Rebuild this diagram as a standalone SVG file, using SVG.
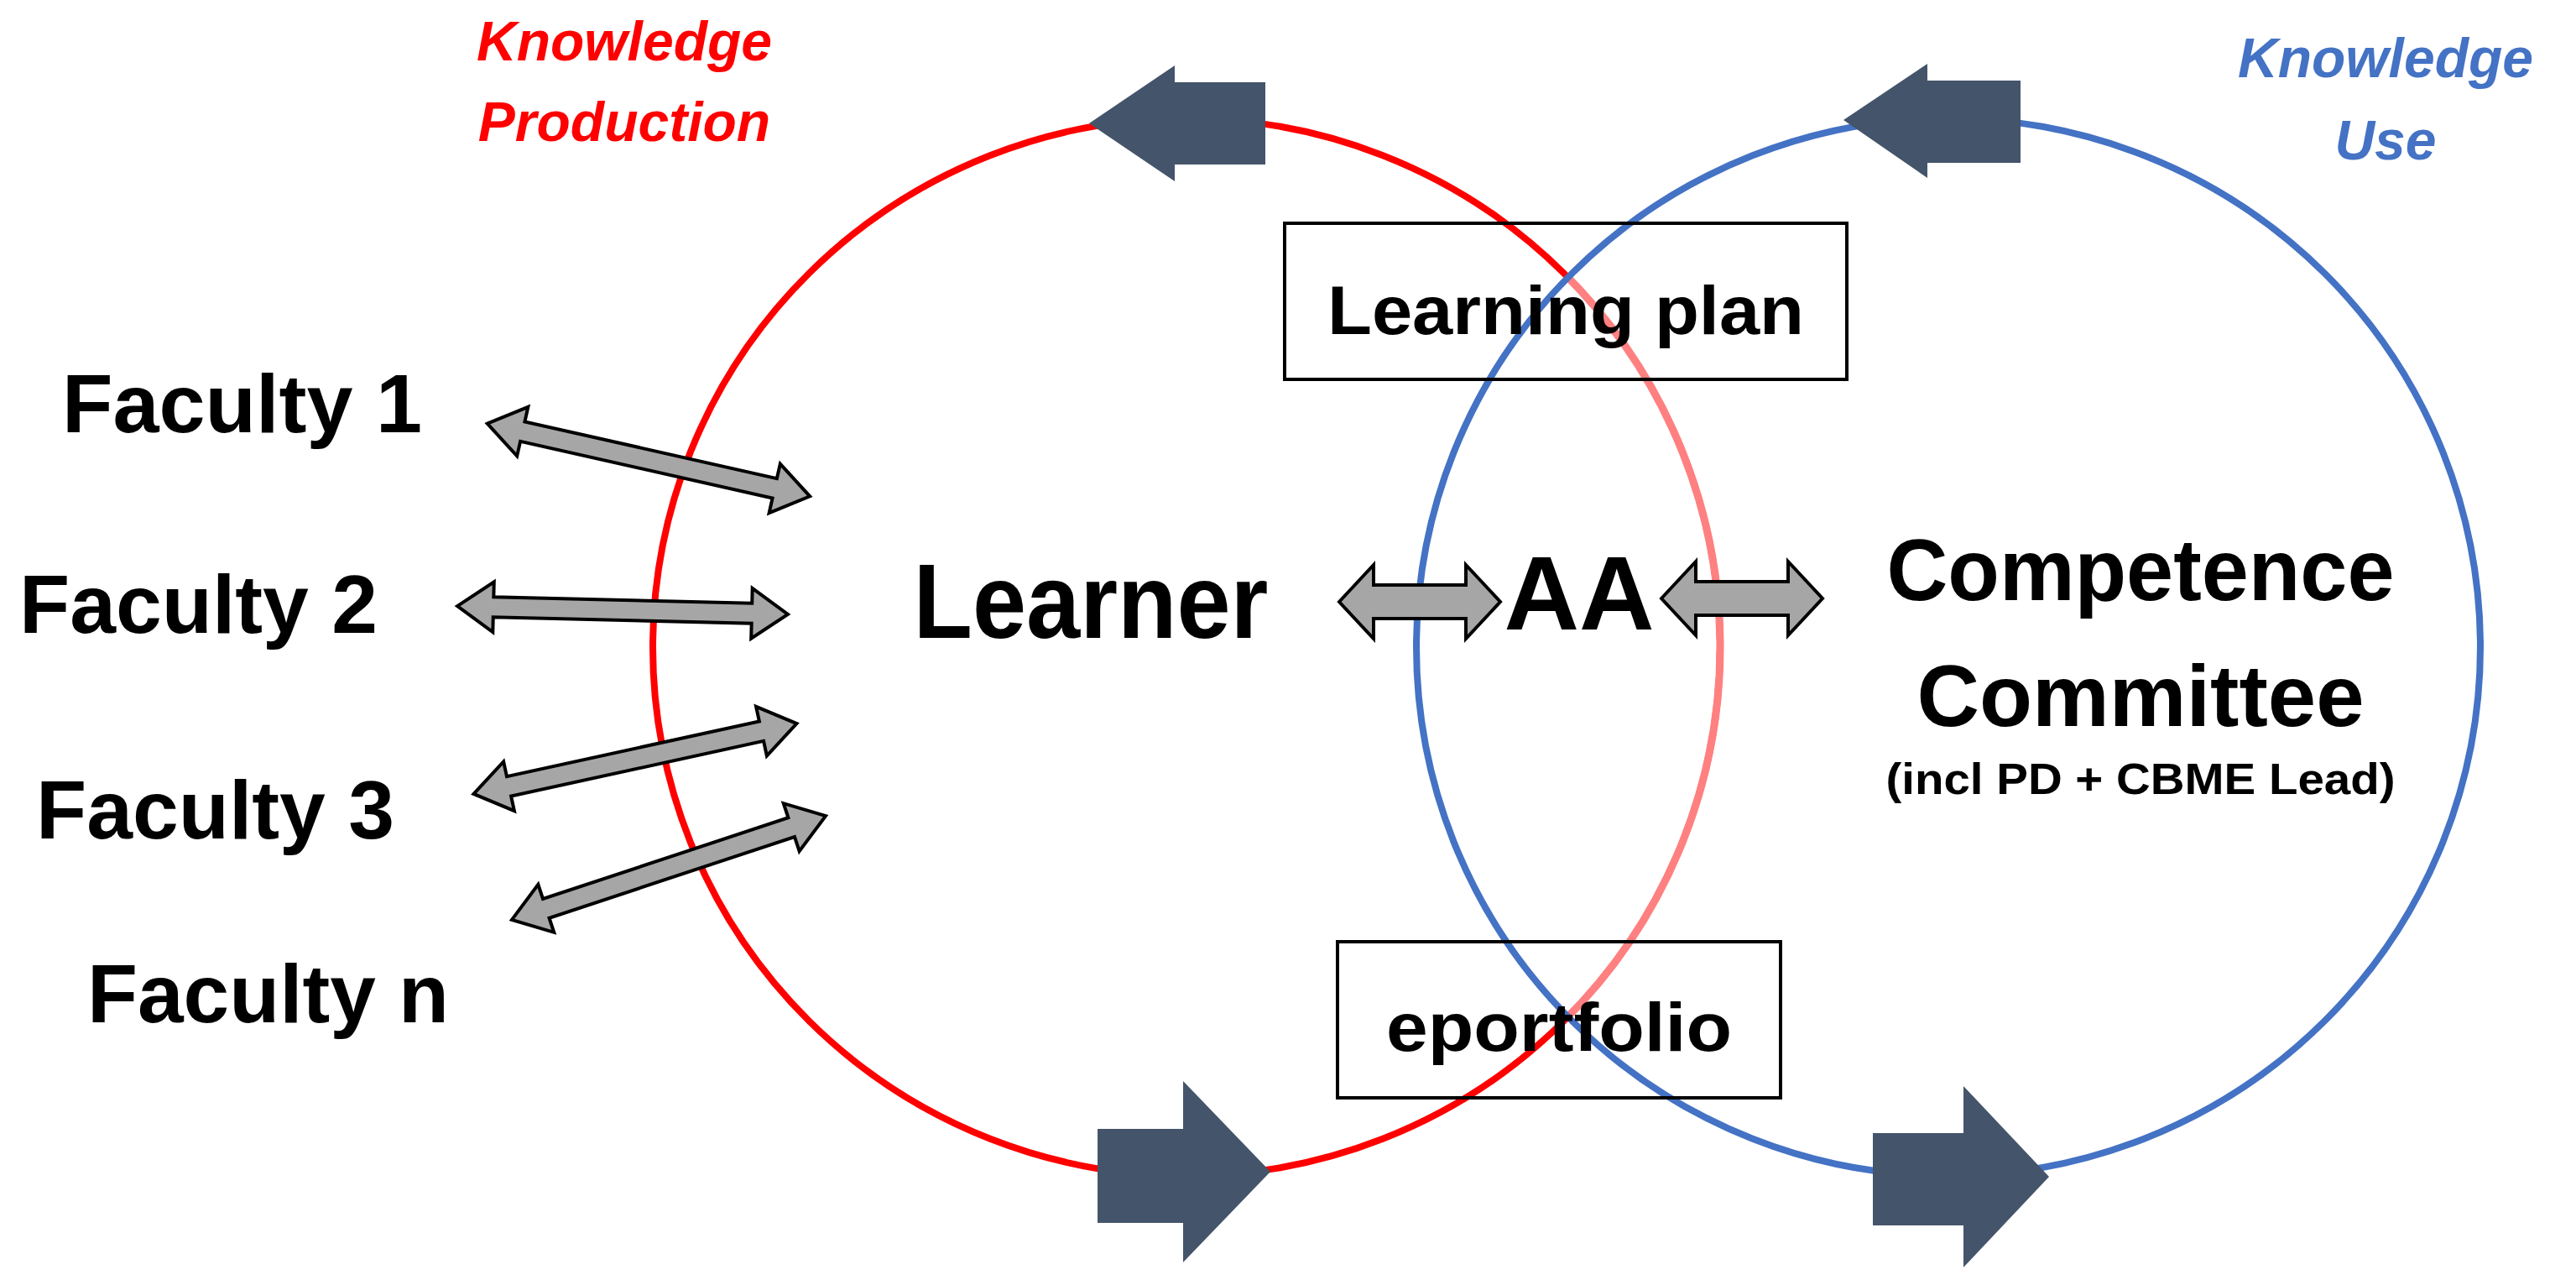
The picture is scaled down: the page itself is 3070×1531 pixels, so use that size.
<svg xmlns="http://www.w3.org/2000/svg" xmlns:xlink="http://www.w3.org/1999/xlink" width="3070" height="1531" viewBox="0 0 3070 1531">
<style>
.t{font-family:"Liberation Sans",Arial,sans-serif;font-weight:bold;fill:#000}
.ga{fill:#A6A6A6;stroke:#000;stroke-width:4;stroke-linejoin:miter}
.da{fill:#44546A}
.box{fill:#fff;stroke:#000;stroke-width:4}
</style>
<defs>
<clipPath id="inBlue"><ellipse cx="2322" cy="771" rx="634" ry="630"/></clipPath>
<polygon id="fa" class="ga" points="-197,0 -154,-30 -154,-12 154,-12 154,-30 197,0 154,30 154,12 -154,12 -154,30"/>
<polygon id="aa" class="ga" points="-96,0 -55,-44 -55,-20 55,-20 55,-44 96,0 55,44 55,20 -55,20 -55,44"/>
</defs>
<rect width="3070" height="1531" fill="#fff"/>
<g id="circles">
<ellipse cx="1414" cy="771" rx="636" ry="630" fill="none" stroke="#FF0000" stroke-width="8"/>
<ellipse cx="1414" cy="771" rx="636" ry="630" fill="none" stroke="#FF8080" stroke-width="9" clip-path="url(#inBlue)"/>
<ellipse cx="2322" cy="771" rx="634" ry="630" fill="none" stroke="#4472C4" stroke-width="8"/>
</g>
<g id="cycle-arrows">
<polygon class="da" points="1298,147 1400,78 1400,98 1508,98 1508,196 1400,196 1400,216"/>
<polygon class="da" points="2197,143 2297,76 2297,96 2408,96 2408,194 2297,194 2297,212"/>
<polygon class="da" points="1514,1396 1410,1288 1410,1345 1308,1345 1308,1457 1410,1457 1410,1504"/>
<polygon class="da" points="2442,1402 2340,1294 2340,1350 2232,1350 2232,1460 2340,1460 2340,1510"/>
</g>
<g id="labels-top">
<text class="t" x="744" y="72" font-size="66" font-style="italic" style="fill:#FF0000" text-anchor="middle">Knowledge</text>
<text class="t" x="744" y="168" font-size="66" font-style="italic" style="fill:#FF0000" text-anchor="middle">Production</text>
<text class="t" x="2843" y="92" font-size="66" font-style="italic" style="fill:#4472C4" text-anchor="middle">Knowledge</text>
<text class="t" x="2843" y="190" font-size="66" font-style="italic" style="fill:#4472C4" text-anchor="middle">Use</text>
</g>
<g id="learning-plan">
<rect class="box" x="1531" y="266" width="670" height="186" fill-opacity="0"/>
<text class="t" x="1866" y="398" font-size="82" text-anchor="middle" textLength="568" lengthAdjust="spacingAndGlyphs">Learning plan</text>
</g>
<g id="eportfolio">
<rect class="box" x="1594" y="1122" width="528" height="186" fill-opacity="0"/>
<text class="t" x="1858" y="1252" font-size="82" text-anchor="middle" textLength="412" lengthAdjust="spacingAndGlyphs">eportfolio</text>
</g>
<g id="faculty1"><text class="t" x="74" y="515" font-size="98" textLength="429" lengthAdjust="spacingAndGlyphs">Faculty 1</text></g>
<g id="faculty2"><text class="t" x="23" y="754" font-size="98" textLength="427" lengthAdjust="spacingAndGlyphs">Faculty 2</text></g>
<g id="faculty3"><text class="t" x="43" y="999" font-size="98" textLength="427" lengthAdjust="spacingAndGlyphs">Faculty 3</text></g>
<g id="facultyn"><text class="t" x="104" y="1218" font-size="98" textLength="431" lengthAdjust="spacingAndGlyphs">Faculty n</text></g>
<g id="learner"><text class="t" x="1300" y="760" font-size="126" text-anchor="middle" textLength="423" lengthAdjust="spacingAndGlyphs">Learner</text></g>
<g id="aa-node"><text class="t" x="1882" y="750" font-size="124" text-anchor="middle">AA</text></g>
<g id="committee">
<text class="t" x="2551" y="715" font-size="104" text-anchor="middle" textLength="605" lengthAdjust="spacingAndGlyphs">Competence</text>
<text class="t" x="2551" y="865" font-size="104" text-anchor="middle" textLength="533" lengthAdjust="spacingAndGlyphs">Committee</text>
<text class="t" x="2551" y="946" font-size="52" text-anchor="middle" textLength="607" lengthAdjust="spacingAndGlyphs">(incl PD + CBME Lead)</text>
</g>
<g id="connectors">
<use xlink:href="#fa" href="#fa" transform="translate(773,548) rotate(12.7)"/>
<use xlink:href="#fa" href="#fa" transform="translate(742,727) rotate(1.4)"/>
<use xlink:href="#fa" href="#fa" transform="translate(757,904) rotate(-12.3)"/>
<use xlink:href="#fa" href="#fa" transform="translate(797,1034) rotate(-18.3)"/>
<use xlink:href="#aa" href="#aa" transform="translate(1692,717)"/>
<use xlink:href="#aa" href="#aa" transform="translate(2076,713)"/>
</g>
</svg>
